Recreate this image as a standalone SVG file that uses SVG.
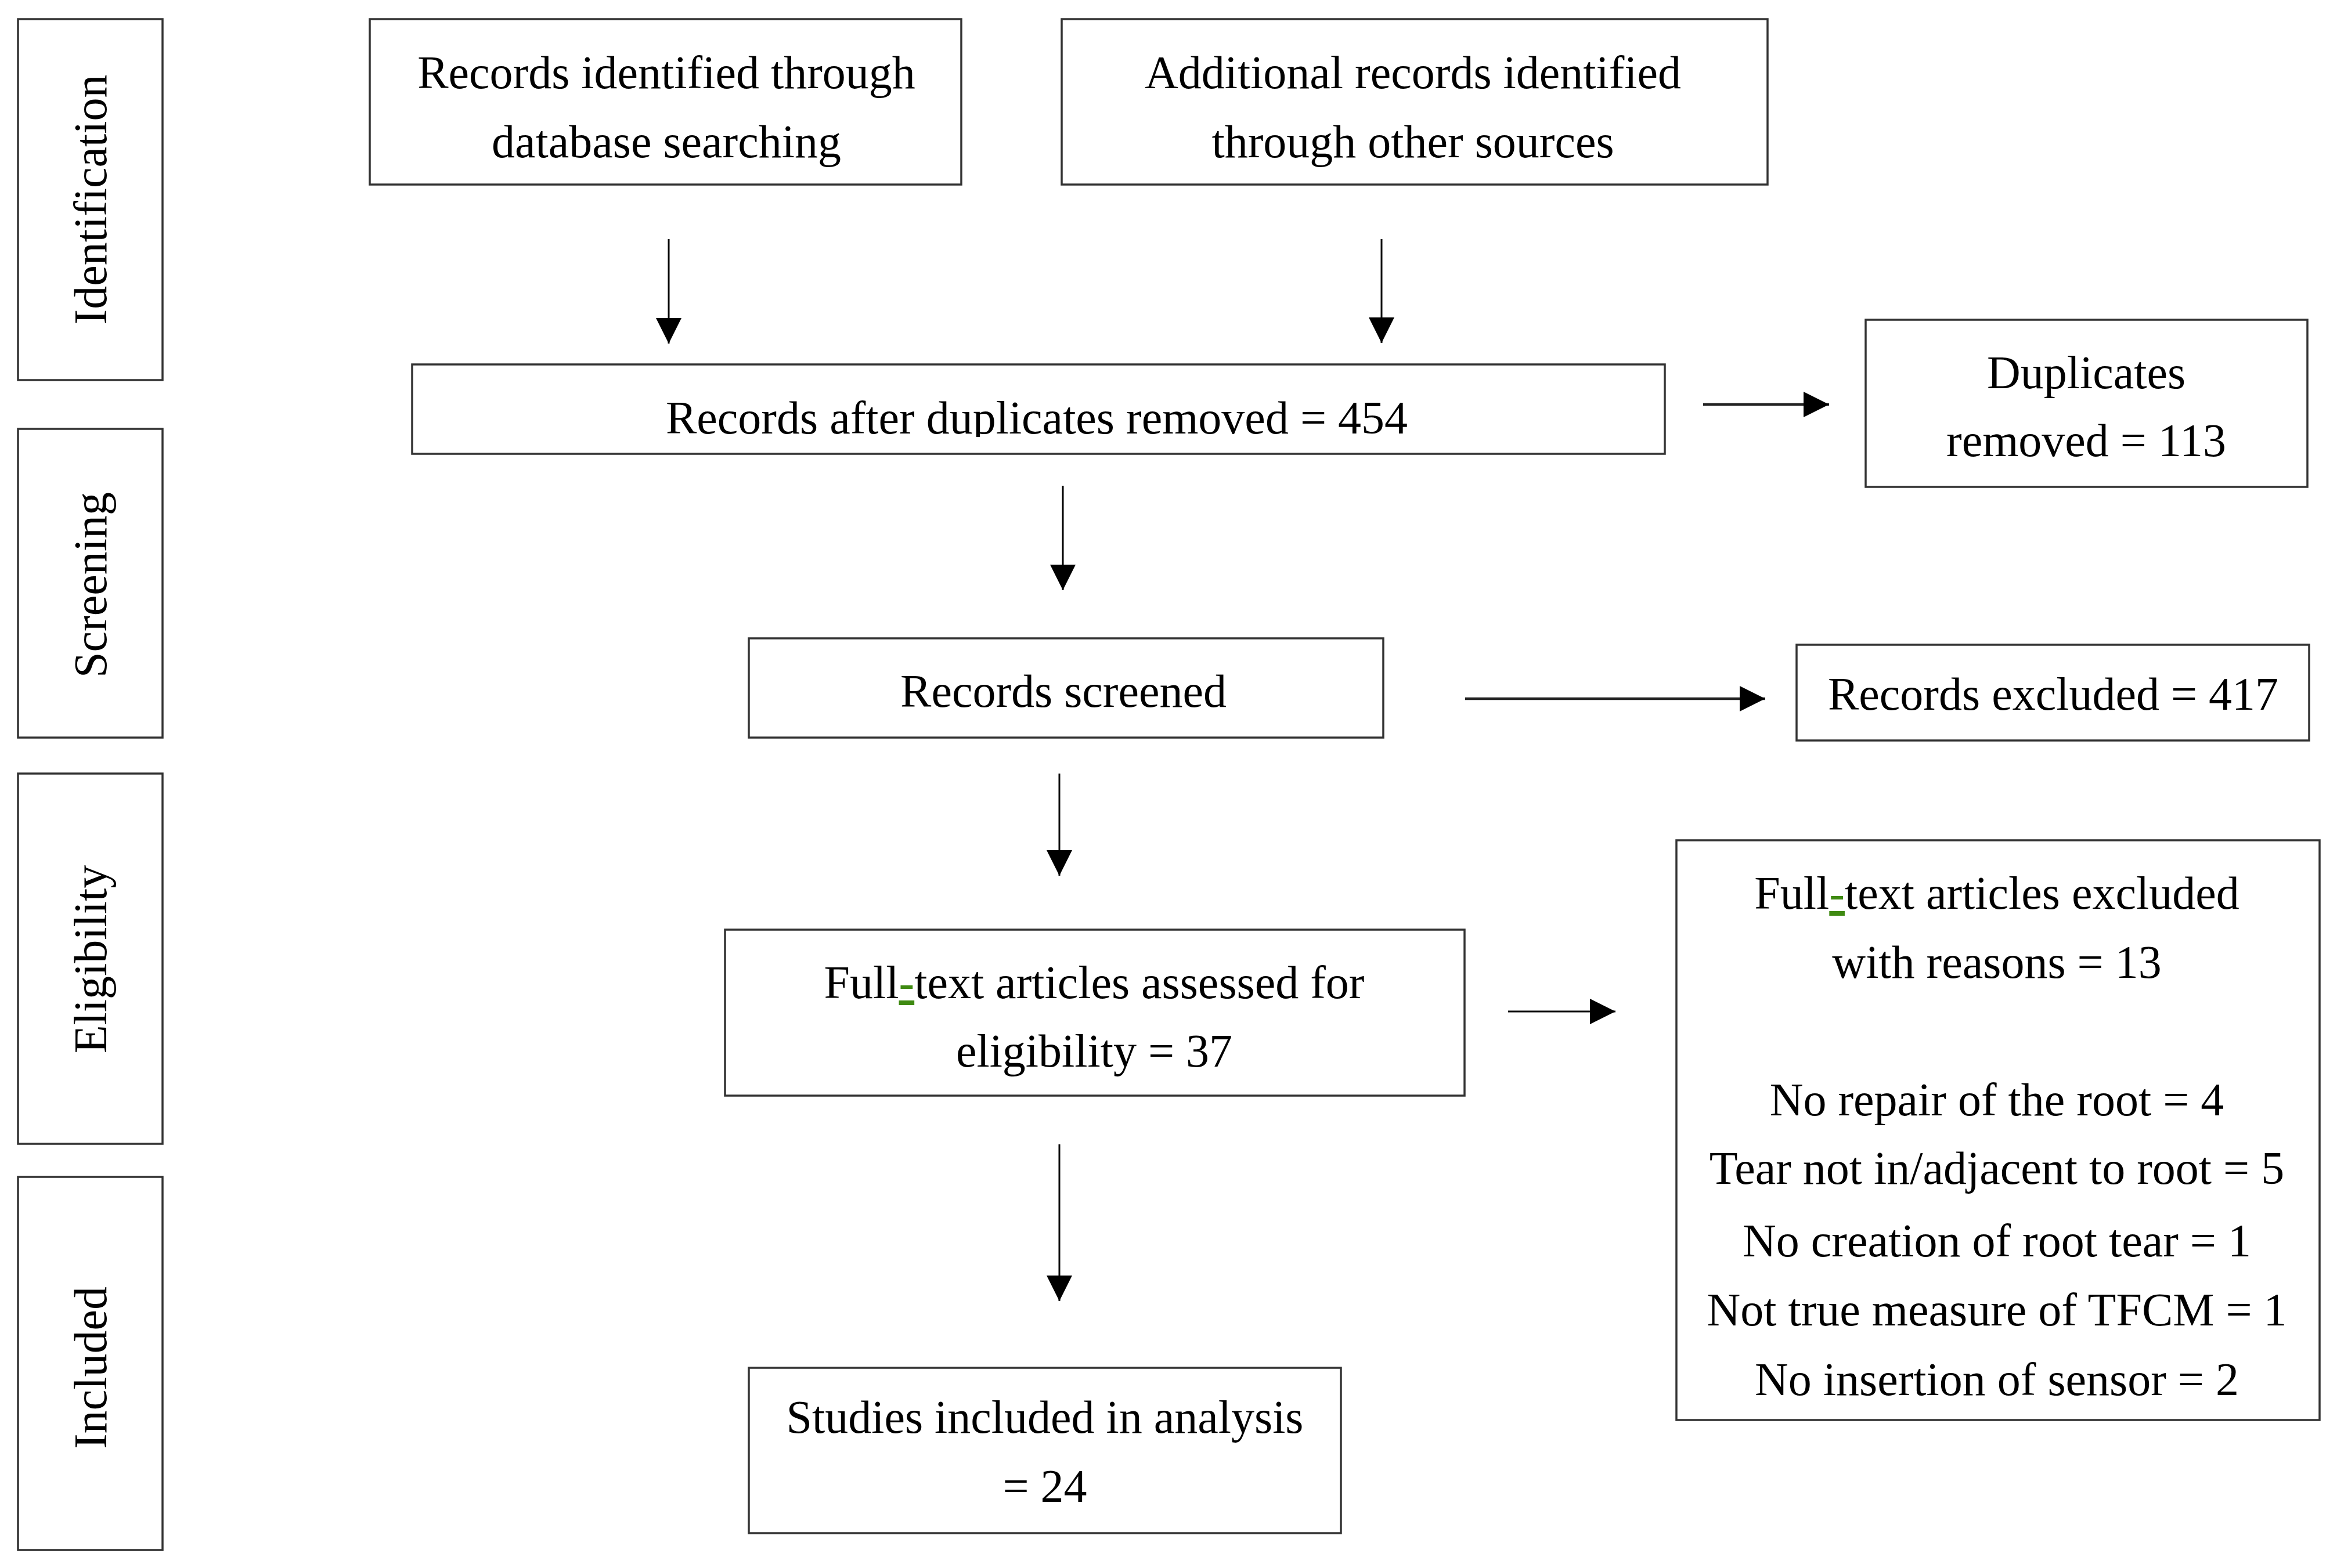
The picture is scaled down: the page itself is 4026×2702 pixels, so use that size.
<svg xmlns="http://www.w3.org/2000/svg" width="4026" height="2702" viewBox="0 0 4026 2702">
<style>
.box{fill:#fff;stroke:#333;stroke-width:3.5}
.t{font-family:"Liberation Serif","Times New Roman",serif;font-size:80px;fill:#000;text-anchor:middle}
.c{stroke:#000;stroke-width:3;fill:none}
.c2{stroke:#222;stroke-width:4.5;fill:none}
.g{fill:#3f8a12;text-decoration:underline}
</style>
<defs>
<marker id="ah" viewBox="0 0 44 44" refX="44" refY="22" markerWidth="44" markerHeight="44" markerUnits="userSpaceOnUse" orient="auto">
<path d="M0,0 L44,22 L0,44 z" fill="#000"/>
</marker>
<clipPath id="clipC"><rect x="700" y="620" width="2180" height="133"/></clipPath>
</defs>
<rect width="4026" height="2702" fill="#fff"/>

<g id="stage-identification">
<rect class="box" x="31" y="33" width="249" height="622"/>
<text class="t" transform="translate(183,344) rotate(-90)">Identification</text>
</g>
<g id="stage-screening">
<rect class="box" x="31" y="739" width="249" height="532"/>
<text class="t" transform="translate(183,1008) rotate(-90)">Screening</text>
</g>
<g id="stage-eligibility">
<rect class="box" x="31" y="1333" width="249" height="638"/>
<text class="t" transform="translate(183,1653) rotate(-90)">Eligibility</text>
</g>
<g id="stage-included">
<rect class="box" x="31" y="2028" width="249" height="643"/>
<text class="t" transform="translate(183,2357) rotate(-90)">Included</text>
</g>

<g id="node-database">
<rect class="box" x="637" y="33" width="1019" height="285"/>
<text class="t" x="1148" y="152">Records identified through</text>
<text class="t" x="1148" y="271">database searching</text>
</g>
<g id="node-other">
<rect class="box" x="1829" y="33" width="1216" height="285"/>
<text class="t" x="2434" y="152">Additional records identified</text>
<text class="t" x="2434" y="271">through other sources</text>
</g>
<g id="node-after-dup">
<rect class="box" x="710" y="628" width="2158" height="154"/>
<text class="t" x="1786" y="747" clip-path="url(#clipC)">Records after duplicates removed = 454</text>
</g>
<g id="node-duplicates">
<rect class="box" x="3214" y="551" width="761" height="288"/>
<text class="t" x="3594" y="669">Duplicates</text>
<text class="t" x="3594" y="786">removed = 113</text>
</g>
<g id="node-screened">
<rect class="box" x="1290" y="1100" width="1093" height="171"/>
<text class="t" x="1832" y="1218">Records screened</text>
</g>
<g id="node-excluded">
<rect class="box" x="3095" y="1111" width="883" height="165"/>
<text class="t" x="3537" y="1223">Records excluded = 417</text>
</g>
<g id="node-fulltext">
<rect class="box" x="1249" y="1602" width="1274" height="286"/>
<text class="t" x="1885" y="1720">Full<tspan class="g">-</tspan>text articles assessed for</text>
<text class="t" x="1885" y="1838">eligibility = 37</text>
</g>
<g id="node-fulltext-excluded">
<rect class="box" x="2888" y="1448" width="1108" height="999"/>
<text class="t" x="3440" y="1566">Full<tspan class="g">-</tspan>text articles excluded</text>
<text class="t" x="3440" y="1685">with reasons = 13</text>
<text class="t" x="3440" y="1922">No repair of the root = 4</text>
<text class="t" x="3440" y="2040">Tear not in/adjacent to root = 5</text>
<text class="t" x="3440" y="2165">No creation of root tear = 1</text>
<text class="t" x="3440" y="2284">Not true measure of TFCM = 1</text>
<text class="t" x="3440" y="2404">No insertion of sensor = 2</text>
</g>
<g id="node-included">
<rect class="box" x="1290" y="2357" width="1020" height="285"/>
<text class="t" x="1800" y="2469">Studies included in analysis</text>
<text class="t" x="1800" y="2588">= 24</text>
</g>

<g id="connectors">
<line class="c" x1="1152" y1="412" x2="1152" y2="592" marker-end="url(#ah)"/>
<line class="c" x1="2380" y1="412" x2="2380" y2="591" marker-end="url(#ah)"/>
<line class="c2" x1="2934" y1="697" x2="3151" y2="697" marker-end="url(#ah)"/>
<line class="c" x1="1831" y1="837" x2="1831" y2="1017" marker-end="url(#ah)"/>
<line class="c2" x1="2524" y1="1204" x2="3041" y2="1204" marker-end="url(#ah)"/>
<line class="c" x1="1825" y1="1333" x2="1825" y2="1509" marker-end="url(#ah)"/>
<line class="c" x1="2598" y1="1743" x2="2783" y2="1743" marker-end="url(#ah)"/>
<line class="c" x1="1825" y1="1972" x2="1825" y2="2242" marker-end="url(#ah)"/>
</g>
</svg>
